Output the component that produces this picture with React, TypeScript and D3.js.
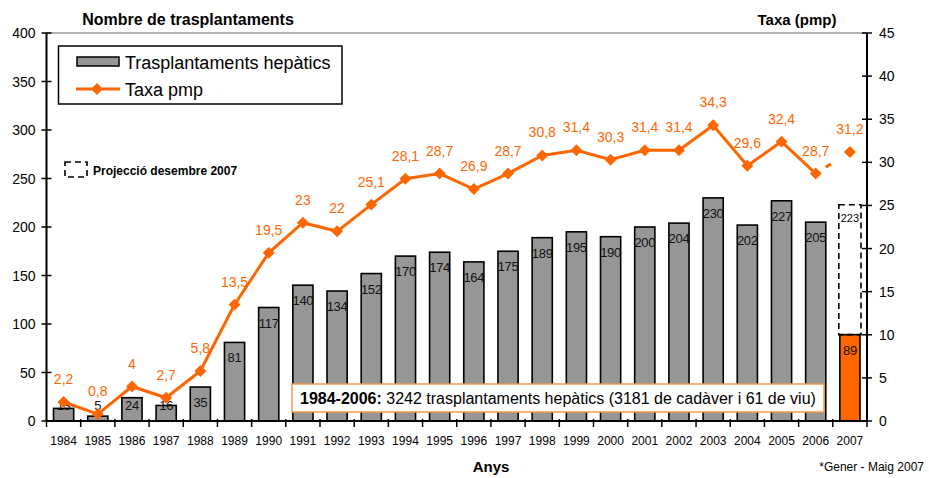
import React from "react";
import * as d3 from "d3";

const years = ["1984","1985","1986","1987","1988","1989","1990","1991","1992","1993","1994","1995","1996","1997","1998","1999","2000","2001","2002","2003","2004","2005","2006","2007"];
const transplants = [13,5,24,16,35,81,117,140,134,152,170,174,164,175,189,195,190,200,204,230,202,227,205,89];
const rate = [2.2,0.8,4,2.7,5.8,13.5,19.5,23,22,25.1,28.1,28.7,26.9,28.7,30.8,31.4,30.3,31.4,31.4,34.3,29.6,32.4,28.7,31.2];
const projection2007 = 223;
const leftTicks = [0,50,100,150,200,250,300,350,400];
const rightTicks = [0,5,10,15,20,25,30,35,40,45];

const W = 929, H = 478;
const m = { left: 46.5, right: 62, top: 33, bottom: 57 };
const ORANGE = "#FF6600";
const GREY = "#969696";
const FONT = "'Liberation Sans', Arial, sans-serif";

const fmt = (v: number) => String(v).replace(".", ",");

const App = () => {
  const x = d3.scaleBand<string>().domain(years).range([m.left, W - m.right]).paddingInner(0).paddingOuter(0);
  const yL = d3.scaleLinear().domain([0, 400]).range([H - m.bottom, m.top]);
  const yR = d3.scaleLinear().domain([0, 45]).range([H - m.bottom, m.top]);
  const bw = x.bandwidth() * 0.59;
  const cx = (y: string) => (x(y) as number) + x.bandwidth() / 2;
  const last = years.length - 1;

  const line = d3.line<number>().x((_, i) => cx(years[i])).y((d) => yR(d));
  const solid = line(rate.slice(0, last)) as string;
  const dashed = d3.line<number>().x((_, i) => cx(years[last - 1 + i])).y((d) => yR(d))(rate.slice(last - 1)) as string;

  const diamond = d3.symbol().type(d3.symbolDiamond2).size(90)() as string;
  const x0 = m.left, x1 = W - m.right, y0 = H - m.bottom;

  return (
    <svg width={W} height={H} style={{ position: "absolute", left: 0, top: 0, fontFamily: FONT }}>
      <rect width={W} height={H} fill="#fff" />
      {/* top border */}
      <line x1={x0} x2={x1} y1={m.top} y2={m.top} stroke="#999" strokeWidth={1.5} />

      {/* bars */}
      {transplants.map((v, i) => {
        const isLast = i === last;
        return (
          <rect key={years[i]} x={cx(years[i]) - bw / 2} y={yL(v)} width={bw} height={y0 - yL(v)}
            fill={isLast ? ORANGE : GREY} stroke="#000" strokeWidth={1.6} />
        );
      })}
      {/* projection box */}
      <rect x={cx(years[last]) - bw / 2 - 1} y={yL(projection2007)} width={bw + 2} height={yL(transplants[last]) - yL(projection2007)}
        fill="none" stroke="#000" strokeWidth={1.6} strokeDasharray="6,4" />
      <text x={cx(years[last])} y={yL(projection2007) + 17} textAnchor="middle" fontSize={11} fill="#000">{projection2007}</text>

      {/* bar labels */}
      {transplants.map((v, i) => (
        <text key={"bl" + i} x={cx(years[i])} y={Math.min(yL(v) + 20, 409.5)} textAnchor="middle" fontSize={13} fill="#111" letterSpacing={-0.3}>{v}</text>
      ))}

      {/* axes */}
      <line x1={x0} x2={x0} y1={m.top} y2={y0} stroke="#000" strokeWidth={2} />
      <line x1={x1} x2={x1} y1={m.top} y2={y0} stroke="#000" strokeWidth={2} />
      <line x1={x0} x2={x1} y1={y0} y2={y0} stroke="#000" strokeWidth={2} />
      {leftTicks.map((t) => (
        <g key={"l" + t}>
          <line x1={x0 - 5} x2={x0 + 5} y1={yL(t)} y2={yL(t)} stroke="#000" strokeWidth={1.5} />
          <text x={x0 - 11} y={yL(t) + 5} textAnchor="end" fontSize={14}>{t}</text>
        </g>
      ))}
      {rightTicks.map((t) => (
        <g key={"r" + t}>
          <line x1={x1 - 5} x2={x1 + 5} y1={yR(t)} y2={yR(t)} stroke="#000" strokeWidth={1.5} />
          <text x={x1 + 12} y={yR(t) + 5} textAnchor="start" fontSize={14}>{t}</text>
        </g>
      ))}
      {years.map((yr, i) => (
        <line key={"xt" + i} x1={x(yr) as number} x2={x(yr) as number} y1={y0 - 2} y2={y0 + 6} stroke="#000" strokeWidth={1.5} />
      ))}
      <line x1={x1} x2={x1} y1={y0 - 2} y2={y0 + 6} stroke="#000" strokeWidth={1.5} />
      {years.map((yr) => (
        <text key={"xl" + yr} x={cx(yr)} y={445} textAnchor="middle" fontSize={12}>{yr}</text>
      ))}

      {/* rate line */}
      <path d={solid} fill="none" stroke={ORANGE} strokeWidth={3} />
      <path d={dashed} fill="none" stroke={ORANGE} strokeWidth={3} strokeDasharray="0,12,6,40" />
      {rate.map((v, i) => (
        <path key={"d" + i} d={diamond} transform={`translate(${cx(years[i])},${yR(v)})`} fill={ORANGE} />
      ))}
      {rate.map((v, i) => (
        <text key={"rl" + i} x={cx(years[i])} y={yR(v) - 18} textAnchor="middle" fontSize={14} fill={ORANGE}>{fmt(v)}</text>
      ))}

      {/* titles */}
      <text x={188} y={25} textAnchor="middle" fontSize={16} fontWeight="bold">Nombre de trasplantaments</text>
      <text x={797} y={25} textAnchor="middle" fontSize={15} fontWeight="bold">Taxa (pmp)</text>
      <text x={491} y={472} textAnchor="middle" fontSize={15} fontWeight="bold">Anys</text>
      <text x={924} y={471} textAnchor="end" fontSize={12}>*Gener - Maig 2007</text>

      {/* legend */}
      <rect x={58.5} y={46} width={283.5} height={58} fill="#fff" stroke="#000" strokeWidth={1.5} />
      <rect x={77} y={57} width={42} height={9} fill={GREY} stroke="#000" strokeWidth={1.5} />
      <text x={125} y={69} fontSize={18}>Trasplantaments hepàtics</text>
      <line x1={76} x2={120} y1={89} y2={89} stroke={ORANGE} strokeWidth={3} />
      <path d={diamond} transform="translate(97,89)" fill={ORANGE} />
      <text x={125} y={96} fontSize={18}>Taxa pmp</text>

      {/* projection note */}
      <rect x={65} y={162} width={22} height={15} fill="none" stroke="#000" strokeWidth={1.6} strokeDasharray="6,4" />
      <text x={93} y={175} fontSize={12} fontWeight="bold">Projecció desembre 2007</text>

      {/* summary box */}
      <rect x={292} y={384} width={532} height={28} fill="#fff" stroke="#F79646" strokeWidth={1.5} />
      <text x={300} y={404} fontSize={16}>
        <tspan fontWeight="bold">1984-2006:</tspan>
        <tspan> 3242 trasplantaments hepàtics (3181 de cadàver i 61 de viu)</tspan>
      </text>
    </svg>
  );
};

export default App;
